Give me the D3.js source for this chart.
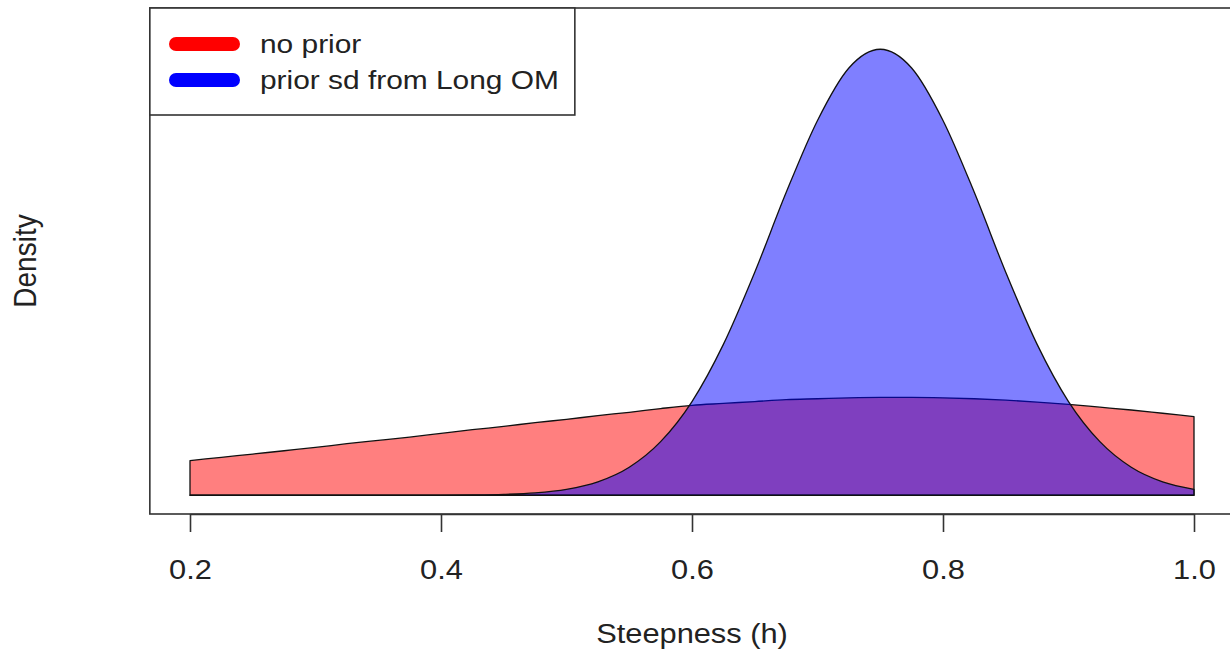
<!DOCTYPE html>
<html>
<head>
<meta charset="utf-8">
<script src="https://cdn.jsdelivr.net/npm/d3@7"></script>
<style>
  body { margin: 0; background: #fff; }
  text { font-family: "Liberation Sans", Arial, sans-serif; fill: #222; }
</style>
</head>
<body>
<div id="chart"></div>
<script>
// steepness grid (h) and density
var steepness = [0.2, 0.225, 0.25, 0.275, 0.3, 0.325, 0.35, 0.375, 0.4, 0.425, 0.45, 0.475,
                 0.5, 0.525, 0.55, 0.575, 0.6, 0.625, 0.65, 0.675, 0.7, 0.725, 0.75, 0.775,
                 0.8, 0.825, 0.85, 0.875, 0.9, 0.925, 0.95, 0.975, 1.0];
var noPrior = [0.37, 0.405, 0.44, 0.475, 0.51, 0.55, 0.585, 0.62, 0.66, 0.70, 0.735, 0.775,
               0.81, 0.85, 0.885, 0.925, 0.96, 0.98, 1.00, 1.02, 1.03, 1.04, 1.045, 1.045,
               1.04, 1.03, 1.015, 0.995, 0.97, 0.94, 0.91, 0.875, 0.84];
var priorLongOM = [0, 0, 0, 0, 0, 0, 0, 0.0003, 0.001, 0.003, 0.009, 0.025,
                   0.063, 0.143, 0.299, 0.572, 1.00, 1.61, 2.38, 3.23, 4.00, 4.56, 4.76, 4.56,
                   4.00, 3.23, 2.38, 1.61, 1.00, 0.572, 0.299, 0.143, 0.063];
var xTicks = [0.2, 0.4, 0.6, 0.8, 1.0];
var seriesNames = ['no prior', 'prior sd from Long OM'];
var seriesColors = ['#ff0000', '#0000ff'];

//Basic setting
var w = 1230, h = 661;
var svg = d3.select('#chart').append('svg')
    .attr('width', w)
    .attr('height', h);

// R style axis ranges: xlim 0.2..1, ylim 0..5, each padded by 4%
var x = d3.scaleLinear().domain([0.2, 1.0]).range([190, 1194]);
var y = d3.scaleLinear().domain([-0.2, 5.2]).range([514, 8]);
var xPad = 0.032;

var series = [noPrior, priorLongOM];
var area = d3.area()
    .x(function(d, i) { return x(steepness[i]); })
    .y0(y(0))
    .y1(function(d) { return y(d); })
    .curve(d3.curveMonotoneX);

// filled densities, red first then blue on top
svg.selectAll('path.dens')
    .data(series)
    .enter().append('path')
    .attr('class', 'dens')
    .attr('d', function(d) { return area(d) + 'Z'; })
    .attr('fill', function(d, i) { return seriesColors[i]; })
    .attr('fill-opacity', 0.5)
    .attr('stroke', '#111')
    .attr('stroke-width', 1.3)
    .attr('stroke-linejoin', 'round');

// plot box
svg.append('rect')
    .attr('x', x(0.2 - xPad))
    .attr('y', y(5.2))
    .attr('width', x(1.0 + xPad) - x(0.2 - xPad))
    .attr('height', y(-0.2) - y(5.2))
    .attr('fill', 'none')
    .attr('stroke', '#333')
    .attr('stroke-width', 1.6);

// x axis
var xAxis = svg.append('g')
    .attr('transform', 'translate(0,' + y(-0.2) + ')')
    .call(d3.axisBottom(x).tickValues(xTicks).tickSize(18).tickSizeOuter(0).tickFormat(d3.format('.1f')));
xAxis.select('.domain').attr('stroke', '#333').attr('stroke-width', 1.6);
xAxis.selectAll('.tick line').attr('stroke', '#333').attr('stroke-width', 1.6);
xAxis.selectAll('.tick text')
    .attr('y', 0)
    .attr('dy', 0)
    .attr('fill', '#222')
    .attr('font-size', 28)
    .attr('font-family', '"Liberation Sans", Arial, sans-serif')
    .attr('transform', 'translate(0,65) scale(1.1,1)');

// axis titles
svg.append('text')
    .attr('transform', 'translate(' + (x(0.2 - xPad) + x(1.0 + xPad)) / 2 + ',643) scale(1.1,1)')
    .attr('text-anchor', 'middle')
    .attr('font-size', 28)
    .text('Steepness (h)');

svg.append('text')
    .attr('transform', 'translate(36,' + (y(-0.2) + y(5.2)) / 2 + ') scale(1.1,1) rotate(-90)')
    .attr('text-anchor', 'middle')
    .attr('font-size', 28)
    .text('Density');

// legend
var legend = svg.append('g');
legend.append('rect')
    .attr('x', x(0.2 - xPad))
    .attr('y', y(5.2))
    .attr('width', 425)
    .attr('height', 107)
    .attr('fill', '#fff')
    .attr('stroke', '#333')
    .attr('stroke-width', 1.6);

var item = legend.selectAll('g.item')
    .data(seriesNames)
    .enter().append('g')
    .attr('class', 'item')
    .attr('transform', function(d, i) { return 'translate(0,' + (44 + i * 36) + ')'; });

item.append('line')
    .attr('x1', 176).attr('x2', 233)
    .attr('y1', 0).attr('y2', 0)
    .attr('stroke', function(d, i) { return seriesColors[i]; })
    .attr('stroke-width', 14)
    .attr('stroke-linecap', 'round');

item.append('text')
    .attr('transform', 'translate(260,9) scale(1.15,1)')
    .attr('font-size', 26)
    .text(function(d) { return d; });
</script>
</body>
</html>
